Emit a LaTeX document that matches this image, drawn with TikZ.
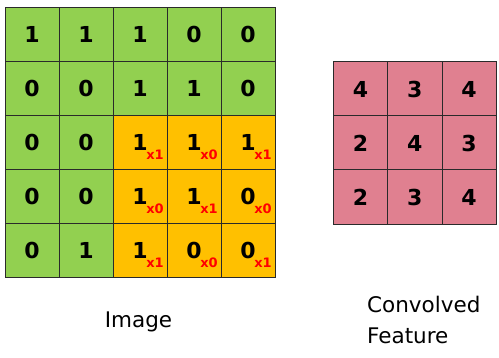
\documentclass[tikz,border=0pt]{standalone}
\usepackage{fontspec}
\setmainfont{DejaVu Sans}
\definecolor{cgreen}{HTML}{92D050}
\definecolor{corange}{HTML}{FFC000}
\definecolor{cpink}{HTML}{E08090}
\definecolor{cline}{HTML}{2A2A2A}
\definecolor{cred}{HTML}{FF0000}
\begin{document}
\begin{tikzpicture}[x=1pt,y=1pt,
  cell/.style={draw=cline, line width=0.8pt, minimum size=54pt, inner sep=0pt,
    font=\bfseries\fontsize{22}{22}\selectfont},
  gcell/.style={cell, fill=cgreen},
  ocell/.style={cell, fill=corange},
  pcell/.style={cell, fill=cpink, minimum size=54.3pt},
  wt/.style={text=cred, font=\bfseries\fontsize{13}{13}\selectfont, inner sep=0pt},
  lbl/.style={font=\fontsize{21.5}{31}\selectfont, inner sep=0pt}
]
\useasboundingbox (0,0) rectangle (499,358);
% image grid
\foreach \r/\vals in {0/{1,1,1,0,0},1/{0,0,1,1,0},2/{0,0,1,1,1},3/{0,0,1,1,0},4/{0,1,1,0,0}}{
  \foreach \v [count=\c from 0] in \vals {
    \pgfmathtruncatemacro{\isor}{(\r>1)&&(\c>1)}
    \ifnum\isor=1
      \node[ocell] (i-\r-\c) at (32+54*\c, 324-54*\r) {\v};
    \else
      \node[gcell] (i-\r-\c) at (32+54*\c, 324-54*\r) {\v};
    \fi
  }
}
% kernel weights
\foreach \r/\ws in {2/{1,0,1},3/{0,1,0},4/{1,0,1}}{
  \foreach \w [count=\k from 2] in \ws {
    \node[wt] (w-\r-\k) at ([xshift=15pt,yshift=-13pt]i-\r-\k.center) {x\w};
  }
}
% convolved feature
\foreach \r/\vals in {0/{4,3,4},1/{2,4,3},2/{2,3,4}}{
  \foreach \v [count=\c from 0] in \vals {
    \node[pcell] (f-\r-\c) at (360.5+54.3*\c, 269-54*\r) {\v};
  }
}
\node[lbl, anchor=base] (imglbl) at (138.5,30) {Image};
\node[lbl, anchor=base west] (featlbl1) at (367,45) {Convolved};
\node[lbl, anchor=base west] (featlbl2) at (367,14) {Feature};
\end{tikzpicture}
\end{document}
